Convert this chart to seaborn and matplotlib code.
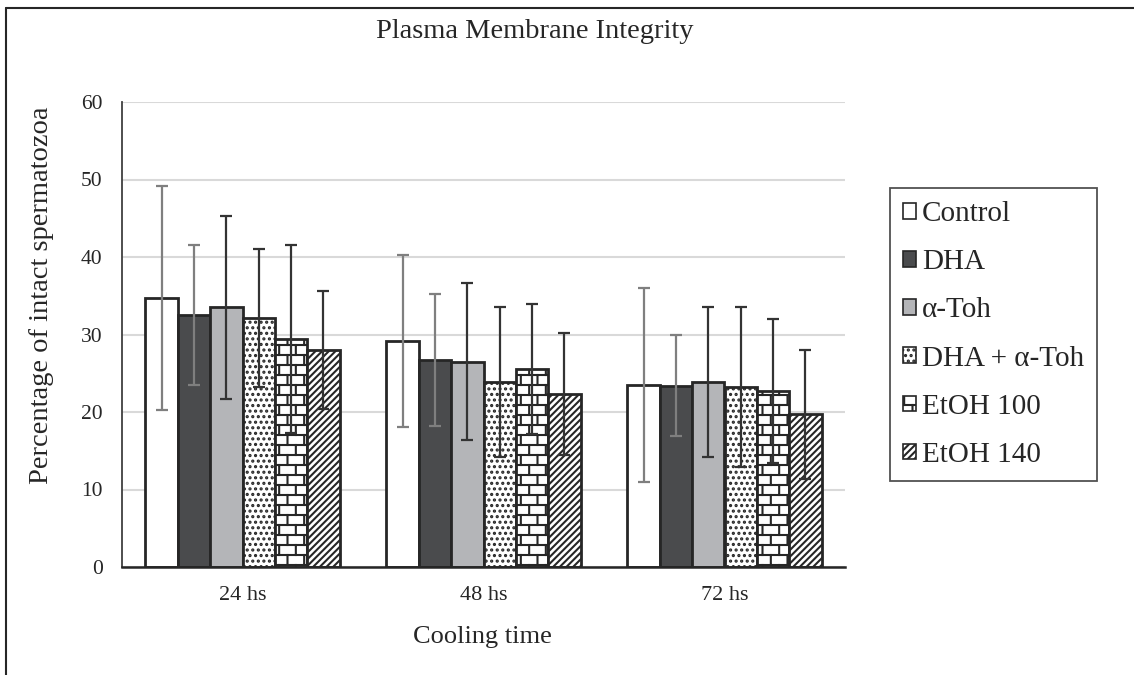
import warnings
import numpy as np
import pandas as pd
import matplotlib
matplotlib.use('Agg')
import matplotlib.pyplot as plt
import matplotlib.hatch as mhatch
from matplotlib.path import Path
from matplotlib.patches import Patch
from matplotlib.lines import Line2D
import seaborn as sns

warnings.filterwarnings('ignore')

# ---------------- data ----------------
times = ['24 hs', '48 hs', '72 hs']
treatments = ['Control', 'DHA', 'α-Toh', 'DHA + α-Toh', 'EtOH 100', 'EtOH 140']
control = [34.7, 29.2, 23.5]
dha = [32.5, 26.7, 23.4]
atoh = [33.5, 26.5, 23.9]
dha_atoh = [32.1, 23.9, 23.2]
etoh100 = [29.4, 25.5, 22.7]
etoh140 = [28.0, 22.3, 19.7]
control_err = [14.4, 11.1, 12.5]
dha_err = [9.0, 8.5, 6.5]
atoh_err = [11.8, 10.1, 9.7]
dha_atoh_err = [8.9, 9.7, 10.3]
etoh100_err = [12.1, 8.4, 9.3]
etoh140_err = [7.6, 7.9, 8.3]
yticks = [0, 10, 20, 30, 40, 50, 60]

values = [control, dha, atoh, dha_atoh, etoh100, etoh140]
errors = [control_err, dha_err, atoh_err, dha_atoh_err, etoh100_err, etoh140_err]


# ---------------- custom brick hatch ----------------
class BrickHatch(mhatch.HatchPatternBase):
    def __init__(self, hatch, density):
        n = hatch.count('b')
        self.rows = 10
        self.cols = 6
        if n:
            self.num_vertices = self.rows * 2 + (self.rows + 1) * self.cols * 2
        else:
            self.num_vertices = 0

    def set_vertices_and_codes(self, vertices, codes):
        r, c = self.rows, self.cols
        i = 0
        for k in range(r):
            y = (k + 0.5) / r
            vertices[i] = (0.0, y); codes[i] = Path.MOVETO; i += 1
            vertices[i] = (1.0, y); codes[i] = Path.LINETO; i += 1
        for k in range(r):
            off = 0.25 + 0.5 * (k % 2)
            if k == 0:
                segs = [(0.0, 0.5 / r), (1.0 - 0.5 / r, 1.0)]
            else:
                segs = [((k - 0.5) / r, (k + 0.5) / r)]
            for (y0, y1) in segs:
                for j in range(c):
                    x = (j + off) / c
                    vertices[i] = (x, y0); codes[i] = Path.MOVETO; i += 1
                    vertices[i] = (x, y1); codes[i] = Path.LINETO; i += 1


mhatch._hatch_types.append(BrickHatch)

# ---------------- style ----------------
sns.set_theme(style='white')
plt.rcParams['font.family'] = ['Liberation Serif', 'DejaVu Serif']
plt.rcParams['hatch.linewidth'] = 1.5
plt.rcParams['hatch.color'] = '#262626'

face_colors = ['#ffffff', '#4a4b4d', '#b4b5b8', '#ffffff', '#ffffff', '#ffffff']
hatches = [None, None, None, '...', 'b', '/////']
err_colors = ['#7f7f7f', '#7f7f7f', '#333333', '#333333', '#333333', '#333333']
edge = '#262626'
txt = '#262626'

rows = []
for t, vals in zip(treatments, values):
    for tm, v in zip(times, vals):
        rows.append({'time': tm, 'treatment': t, 'value': v})
df = pd.DataFrame(rows)

fig = plt.figure(figsize=(11.34, 6.75), dpi=100)
ax = fig.add_axes([122 / 1134, 1 - 567 / 675, (845 - 122) / 1134, (567 - 102) / 675])

sns.barplot(data=df, x='time', y='value', hue='treatment', order=times,
            hue_order=treatments, palette=face_colors, errorbar=None,
            width=0.805, edgecolor=edge, linewidth=2.0, saturation=1,
            legend=False, ax=ax)

for cont, fc, h, ec, errs, vals in zip(ax.containers, face_colors, hatches,
                                       err_colors, errors, values):
    xs = []
    for bar in cont:
        bar.set_facecolor(fc)
        bar.set_edgecolor(edge)
        bar.set_linewidth(2.0)
        if h:
            bar.set_hatch(h)
        xs.append(bar.get_x() + bar.get_width() / 2)
    ax.errorbar(xs, vals, yerr=errs, fmt='none', ecolor=ec, elinewidth=1.6,
                capsize=4.5, capthick=1.6, zorder=5)

ax.set_ylim(0, 60)
ax.set_yticks(yticks)
ax.set_xlim(-0.5, 2.5)
ax.yaxis.grid(True, color='#d9d9d9', linewidth=1.5)
ax.set_axisbelow(True)
for s in ['top', 'right']:
    ax.spines[s].set_visible(False)
ax.spines['left'].set_color('#404040')
ax.spines['left'].set_linewidth(1.3)
ax.spines['bottom'].set_color('#262626')
ax.spines['bottom'].set_linewidth(1.8)
ax.tick_params(axis='y', length=0, pad=14, labelsize=15.5, colors=txt)
ax.tick_params(axis='x', length=0, pad=14, labelsize=16, colors=txt)
ax.set_xlabel('')
ax.set_ylabel('')

fig.text(535 / 1134, 1 - 32 / 675, 'Plasma Membrane Integrity', ha='center',
         va='center', fontsize=20.5, color=txt)
fig.text(482 / 1134, 1 - 637 / 675, 'Cooling time', ha='center',
         va='center', fontsize=19, color=txt)
fig.text(42 / 1134, 1 - 295 / 675, 'Percentage of intact spermatozoa',
         ha='center', va='center', rotation=90, fontsize=20.5, color=txt)

handles = [Patch(facecolor=fc, edgecolor=edge, hatch=h, linewidth=1.2)
           for fc, h in zip(face_colors, hatches)]
leg = ax.legend(handles, treatments, loc='upper left',
                bbox_to_anchor=(890 / 1134, 1 - 188 / 675),
                bbox_transform=fig.transFigure, frameon=True, fontsize=21,
                handlelength=0.45, handleheight=0.45, handletextpad=0.2,
                labelspacing=0.76, borderpad=0.45, fancybox=False,
                borderaxespad=0)
leg.get_frame().set_edgecolor('#262626')
leg.get_frame().set_linewidth(1.3)

# figure border
fig.add_artist(Line2D([6 / 1134, 1.0], [1 - 8 / 675, 1 - 8 / 675],
                      transform=fig.transFigure, color='#262626', lw=1.5))
fig.add_artist(Line2D([6 / 1134, 6 / 1134], [0, 1 - 8 / 675],
                      transform=fig.transFigure, color='#262626', lw=1.5))

fig.savefig('out.png', dpi=100)
